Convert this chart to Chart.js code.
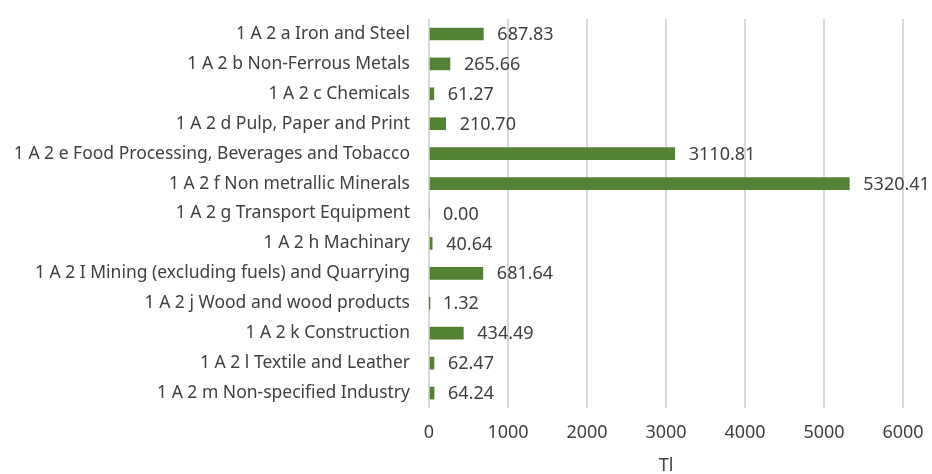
<!DOCTYPE html>
<html><head><meta charset="utf-8">
<script src="https://cdn.jsdelivr.net/npm/chart.js@4/dist/chart.umd.min.js"></script>
<style>html,body{margin:0;padding:0;background:#fff}#wrap{width:932px;height:474px}</style>
</head><body><div id="wrap"><canvas id="c" width="932" height="474"></canvas></div>
<script>
const categories = [
  "1 A 2 a Iron and Steel",
  "1 A 2 b Non-Ferrous Metals",
  "1 A 2 c Chemicals",
  "1 A 2 d Pulp, Paper and Print",
  "1 A 2 e Food Processing, Beverages and Tobacco",
  "1 A 2 f Non metrallic Minerals",
  "1 A 2 g Transport Equipment",
  "1 A 2 h Machinary",
  "1 A 2 I Mining (excluding fuels) and Quarrying",
  "1 A 2 j Wood and wood products",
  "1 A 2 k Construction",
  "1 A 2 l Textile and Leather",
  "1 A 2 m Non-specified Industry"
];
const values = [687.83, 265.66, 61.27, 210.70, 3110.81, 5320.41, 0.00, 40.64, 681.64, 1.32, 434.49, 62.47, 64.24];
const xTicks = [0, 1000, 2000, 3000, 4000, 5000, 6000];
const axisTitle = "Tl";

const FONT = "'Noto Sans', sans-serif";
const TXT = "#404040";

const labelPlugin = {
  id: 'vals',
  afterDatasetsDraw(chart) {
    const ctx = chart.ctx;
    const meta = chart.getDatasetMeta(0);
    ctx.save();
    ctx.font = "18px " + FONT;
    ctx.fillStyle = TXT;
    ctx.textBaseline = 'middle';
    ctx.textAlign = 'left';
    meta.data.forEach((bar, i) => {
      ctx.fillText(values[i].toFixed(2), bar.x + 14, bar.y + 1);
    });
    ctx.restore();
  }
};

new Chart(document.getElementById('c'), {
  type: 'bar',
  data: { labels: categories, datasets: [{ data: values, backgroundColor: '#548235', barThickness: 12 }] },
  options: {
    indexAxis: 'y',
    responsive: false,
    animation: false,
    layout: { padding: { left: 0, right: 29, top: 19, bottom: 0 } },
    plugins: { legend: { display: false }, tooltip: { enabled: false } },
    scales: {
      x: {
        min: 0, max: 6000,
        afterBuildTicks(scale) { scale.ticks = xTicks.map(v => ({ value: v })); },
        grid: { color: '#d9d9d9', lineWidth: 2, drawTicks: false },
        border: { display: false },
        ticks: { color: TXT, font: { family: FONT, size: 18 }, padding: 14, callback: v => String(v) },
        title: { display: true, text: axisTitle, color: TXT, font: { family: FONT, size: 18 }, padding: { top: 7, bottom: -3 } },
        afterFit(scale) { scale.height = 66; scale.paddingLeft = 0; scale.paddingRight = 0; }
      },
      y: {
        grid: { display: false, drawTicks: false },
        border: { display: false },
        ticks: { color: TXT, font: { family: FONT, size: 17.5 }, padding: 19, autoSkip: false },
        afterFit(scale) { scale.width = 429; scale.paddingTop = 0; scale.paddingBottom = 0; }
      }
    }
  },
  plugins: [labelPlugin]
});
</script></body></html>
